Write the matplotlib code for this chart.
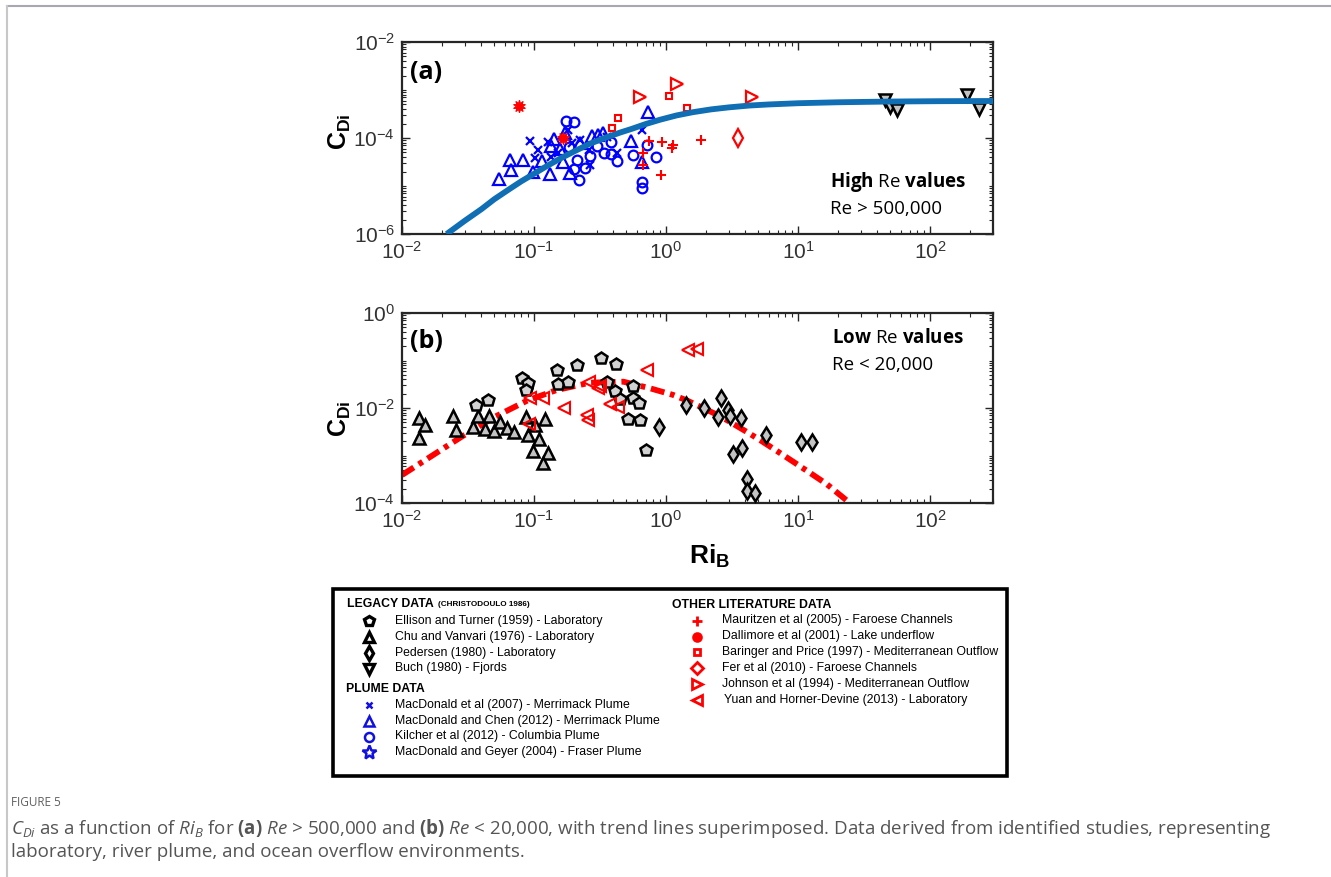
import matplotlib
matplotlib.use('Agg')
import matplotlib.pyplot as plt
from matplotlib.lines import Line2D
from matplotlib.patches import Rectangle
from matplotlib.ticker import LogLocator, NullFormatter

plt.rcParams['font.family'] = 'Liberation Sans'
plt.rcParams['mathtext.fontset'] = 'custom'
plt.rcParams['mathtext.rm'] = 'Liberation Sans'
plt.rcParams['mathtext.sf'] = 'Liberation Sans:bold'
plt.rcParams['mathtext.it'] = 'Open Sans:italic'
plt.rcParams['mathtext.bf'] = 'Open Sans:bold'
plt.rcParams['mathtext.default'] = 'regular'

# ---------------- (a) high Re data ----------------
kilcher_ri = [0.175, 0.202, 0.185, 0.211, 0.201, 0.218, 0.243, 0.265, 0.299, 0.339,
              0.383, 0.424, 0.383, 0.565, 0.655, 0.655, 0.836, 0.714]
kilcher_cd = [2.26e-4, 2.19e-4, 6.4e-5, 3.48e-5, 2.26e-5, 1.33e-5, 2.4e-5, 4.27e-5, 6.8e-5, 4.8e-5,
              4.64e-5, 3.37e-5, 8.4e-5, 4.43e-5, 1.23e-5, 8.96e-6, 3.96e-5, 7.1e-5]
chen_ri = [0.0543, 0.0658, 0.0665, 0.082, 0.0977, 0.1156, 0.132, 0.142, 0.135, 0.157,
           0.172, 0.1875, 0.1667, 0.223, 0.2735, 0.307, 0.335, 0.541, 0.735, 0.655]
chen_cd = [1.38e-5, 3.48e-5, 2.16e-5, 3.48e-5, 1.93e-5, 3.37e-5, 1.78e-5, 9.4e-5, 6.8e-5, 5.8e-5,
           1.25e-4, 1.84e-5, 3.2e-5, 8.0e-5, 1.1e-4, 1.14e-4, 1.25e-4, 8.8e-5, 3.53e-4, 3.2e-5]
macd_ri = [0.0933, 0.108, 0.102, 0.128, 0.135, 0.153, 0.182, 0.193, 0.223, 0.262,
           0.265, 0.356, 0.424, 0.661]
macd_cd = [8.7e-5, 5.6e-5, 3.78e-5, 8.4e-5, 3.96e-5, 4.94e-5, 1.47e-4, 7.8e-5, 9.1e-5, 5.6e-5,
           2.74e-5, 1.06e-4, 4.8e-5, 1.47e-4]
dallimore_ri = [0.0775, 0.165]
dallimore_cd = [4.64e-4, 1.01e-4]
baringer_ri = [0.388, 0.43, 1.06, 1.435]
baringer_cd = [1.59e-4, 2.61e-4, 7.5e-4, 4.16e-4]
johnson_ri = [0.63, 1.205, 4.46]
johnson_cd = [7.05e-4, 1.33e-3, 7.26e-4]
mauritzen_ri = [0.746, 0.927, 1.135, 1.104, 0.673, 0.667, 0.912, 1.84]
mauritzen_cd = [8.66e-5, 8.4e-5, 7.1e-5, 6.1e-5, 4.8e-5, 2.74e-5, 1.69e-5, 9.1e-5]
fer_ri = [3.53]
fer_cd = [9.86e-5]
buch_ri = [45.8, 49.8, 56.5, 192, 236]
buch_cd = [6.19e-4, 4.36e-4, 3.83e-4, 7.87e-4, 3.96e-4]
trend_a_ri = [0.0218, 0.03, 0.04, 0.05, 0.065, 0.08, 0.1, 0.125, 0.16, 0.2, 0.265, 0.35, 0.45,
              0.55, 0.7, 0.9, 1.2, 1.6, 2.2, 3.0, 4.3, 6.0, 10, 20, 50, 120, 300]
trend_a_cd = [1.0e-6, 1.9e-6, 3.3e-6, 5.3e-6, 8.6e-6, 1.25e-5, 1.8e-5, 2.6e-5, 3.8e-5, 5.2e-5,
              7.6e-5, 1.02e-4, 1.3e-4, 1.55e-4, 1.95e-4, 2.4e-4, 2.95e-4, 3.45e-4, 3.95e-4,
              4.35e-4, 4.75e-4, 5.0e-4, 5.3e-4, 5.55e-4, 5.75e-4, 5.85e-4, 5.9e-4]

# ---------------- (b) low Re data ----------------
ellison_ri = [0.0366, 0.0451, 0.0811, 0.0906, 0.0875, 0.1486, 0.151, 0.182, 0.21, 0.324,
              0.418, 0.36, 0.414, 0.452, 0.56, 0.562, 0.624, 0.515, 0.63, 0.71]
ellison_cd = [0.0113, 0.0147, 0.0422, 0.0341, 0.0234, 0.0631, 0.032, 0.0353, 0.0804, 0.111,
              0.0844, 0.0361, 0.0228, 0.0151, 0.029, 0.0162, 0.0127, 0.00578, 0.00559, 0.0013]
chu_ri = [0.01345, 0.01493, 0.01345, 0.0245, 0.0255, 0.0344, 0.0379, 0.0456, 0.0423, 0.0494,
          0.0552, 0.0621, 0.0708, 0.0865, 0.0901, 0.102, 0.122, 0.1094, 0.0989, 0.127, 0.116]
chu_cd = [0.00607, 0.00439, 0.00234, 0.00679, 0.00344, 0.00392, 0.00695, 0.00679, 0.00365, 0.00333,
          0.00515, 0.00374, 0.00317, 0.00631, 0.0027, 0.00439, 0.00595, 0.00219, 0.00123, 0.00111, 0.000695]
pedersen_ri = [0.885, 1.418, 1.94, 2.59, 2.49, 2.93, 3.05, 3.68, 5.73, 3.2, 3.74, 4.13, 4.13, 4.72, 10.5, 12.7]
pedersen_cd = [0.00398, 0.01156, 0.00986, 0.016, 0.00656, 0.00908, 0.00679, 0.00607, 0.0027, 0.00108,
               0.00142, 0.000315, 0.000182, 0.000165, 0.00195, 0.00195]
yuan_ri = [0.094, 0.1175, 0.0916, 0.1686, 0.254, 0.258, 0.263, 0.307, 0.316, 0.374, 0.431, 0.724, 1.476, 1.71]
yuan_cd = [0.01663, 0.01648, 0.0046, 0.00986, 0.00713, 0.00546, 0.0361, 0.026, 0.0284, 0.012,
           0.0105, 0.0622, 0.1664, 0.172]
trend_b_ri = [0.01, 0.0283, 0.0507, 0.0906, 0.1486, 0.265, 0.475, 0.757, 1.135, 1.45, 1.81, 2.3,
              2.88, 3.9, 5.15, 7.0, 9.2, 12.5, 16.5, 24.8]
trend_b_cd = [3.88e-4, 2.49e-3, 6.56e-3, 1.47e-2, 2.39e-2, 3.41e-2, 3.58e-2, 2.6e-2, 1.88e-2,
              1.43e-2, 1.07e-2, 7.8e-3, 5.6e-3, 3.4e-3, 2.12e-3, 1.22e-3, 7.4e-4, 4.2e-4,
              2.5e-4, 9.9e-5]

W, H = 1331, 877
BLUE = '#0000FF'
RED = '#FF0000'
FRAME = '#262626'
GRAY = '#C4C4C4'


def fx(x):
    return x / W


def fy(y):
    return 1 - y / H


fig = plt.figure(figsize=(W / 100, H / 100), dpi=100)

ax1 = fig.add_axes([fx(402), fy(234), (993 - 402) / W, (234 - 42) / H])
ax2 = fig.add_axes([fx(402), fy(503), (993 - 402) / W, (503 - 313) / H])

# panel (a)
ax1.plot(kilcher_ri, kilcher_cd, 'o', ms=7, mfc='none', mec=BLUE, mew=1.6)
ax1.plot(chen_ri, chen_cd, '^', ms=8, mfc='none', mec=BLUE, mew=1.6)
ax1.plot(macd_ri, macd_cd, 'x', ms=6, mec=BLUE, mew=1.6)
ax1.plot(dallimore_ri, dallimore_cd, marker=(10, 1, 0), ls='none', ms=9, mfc=RED, mec=RED, mew=0.8)
ax1.plot(baringer_ri, baringer_cd, 's', ms=5, mfc='none', mec=RED, mew=1.5)
ax1.plot(johnson_ri, johnson_cd, '>', ms=8, mfc='none', mec=RED, mew=1.6)
ax1.plot(mauritzen_ri, mauritzen_cd, '+', ms=7, mec=RED, mew=1.5)
ax1.plot(fer_ri, fer_cd, 'd', ms=9, mfc='none', mec=RED, mew=1.6)
ax1.plot(buch_ri, buch_cd, 'v', ms=9, mfc=GRAY, mec='black', mew=1.8)
ax1.plot(trend_a_ri, trend_a_cd, '-', color='#0F6EB4', lw=4.2, zorder=4, solid_capstyle='butt',
         solid_joinstyle='round')
ax1.set_ylim(1e-6, 1e-2)

# panel (b)
ax2.plot(trend_b_ri, trend_b_cd, color=RED, lw=4.2, ls=(0, (2.4, 1.0, 0.8, 1.0)),
         dash_capstyle='butt', zorder=2)
ax2.plot(chu_ri, chu_cd, '^', ms=9, mfc=GRAY, mec='black', mew=1.8, zorder=3)
ax2.plot(ellison_ri, ellison_cd, 'p', ms=9, mfc='#D2D2D2', mec='black', mew=1.8, zorder=3)
ax2.plot(pedersen_ri, pedersen_cd, 'd', ms=8.5, mfc=GRAY, mec='black', mew=1.8, zorder=3)
ax2.plot(yuan_ri, yuan_cd, '<', ms=8, mfc='none', mec=RED, mew=1.5, zorder=3)
ax2.set_ylim(1e-4, 1e0)

for ax in (ax1, ax2):
    ax.set_xscale('log')
    ax.set_yscale('log')
    ax.set_xlim(1e-2, 300)
    ax.xaxis.set_major_locator(LogLocator(base=10, numticks=10))
    ax.xaxis.set_minor_locator(LogLocator(base=10, subs=range(2, 10), numticks=20))
    ax.xaxis.set_minor_formatter(NullFormatter())
    ax.yaxis.set_major_locator(LogLocator(base=100, numticks=10))
    ax.yaxis.set_minor_locator(LogLocator(base=10, subs=range(1, 10), numticks=20))
    ax.yaxis.set_minor_formatter(NullFormatter())
    ax.tick_params(which='both', direction='in', top=True, right=True, color=FRAME)
    ax.tick_params(which='major', length=6, width=1.0, labelsize=15, labelcolor='#333333', pad=5)
    ax.tick_params(which='minor', length=3, width=0.8)
    for s in ax.spines.values():
        s.set_linewidth(1.6)
        s.set_color(FRAME)

ax1.set_ylabel(r'$\mathsf{C_{Di}}$', fontsize=18)
ax1.yaxis.set_label_coords(-0.083, 0.535)
ax2.set_ylabel(r'$\mathsf{C_{Di}}$', fontsize=18)
ax2.yaxis.set_label_coords(-0.083, 0.445)
ax2.set_xlabel(r'$\mathsf{Ri_B}$', fontsize=19)
ax2.xaxis.set_label_coords(0.52, -0.21)

ax1.text(0.014, 0.84, '(a)', transform=ax1.transAxes, fontsize=18, fontweight='bold',
         family='Open Sans', va='center')
ax2.text(0.014, 0.85, '(b)', transform=ax2.transAxes, fontsize=18, fontweight='bold',
         family='Open Sans', va='center')

ax1.text(0.725, 0.245, r'$\mathbf{High}$ Re $\mathbf{values}$', transform=ax1.transAxes,
         fontsize=13.5, family='Open Sans', va='baseline')
ax1.text(0.725, 0.105, 'Re > 500,000', transform=ax1.transAxes,
         fontsize=13.5, family='Open Sans', va='baseline')
ax2.text(0.728, 0.84, r'$\mathbf{Low}$ Re $\mathbf{values}$', transform=ax2.transAxes,
         fontsize=13.5, family='Open Sans', va='baseline')
ax2.text(0.728, 0.70, 'Re < 20,000', transform=ax2.transAxes,
         fontsize=13.5, family='Open Sans', va='baseline')

# ---------------- legend box ----------------
fig.add_artist(Rectangle((fx(333), fy(776)), (1007 - 333) / W, (776 - 589) / H,
                         transform=fig.transFigure, fill=False, lw=2.6, ec='black'))

LFS = 8.8
legacy = [('p', 'Ellison and Turner (1959) - Laboratory'),
          ('^', 'Chu and Vanvari (1976) - Laboratory'),
          ('d', 'Pedersen (1980) - Laboratory'),
          ('v', 'Buch (1980) - Fjords')]
plume = [('x', 'MacDonald et al (2007) - Merrimack Plume'),
         ('^', 'MacDonald and Chen (2012) - Merrimack Plume'),
         ('o', 'Kilcher et al (2012) - Columbia Plume'),
         ('*', 'MacDonald and Geyer (2004) - Fraser Plume')]
other = [('+', 'Mauritzen et al (2005) - Faroese Channels'),
         ((10, 1, 0), 'Dallimore et al (2001) - Lake underflow'),
         ('s', 'Baringer and Price (1997) - Mediterranean Outflow'),
         ('D', 'Fer et al (2010) - Faroese Channels'),
         ('>', 'Johnson et al (1994) - Mediterranean Outflow'),
         ('<', 'Yuan and Horner-Devine (2013) - Laboratory')]

fig.text(fx(347), fy(604), 'LEGACY DATA', fontsize=LFS, fontweight='bold', va='center')
fig.text(fx(438), fy(604.5), '(CHRISTODOULO 1986)', fontsize=5.9, fontweight='bold', va='center')
fig.text(fx(346), fy(689), 'PLUME DATA', fontsize=LFS, fontweight='bold', va='center')
fig.text(fx(672), fy(605), 'OTHER LITERATURE DATA', fontsize=LFS, fontweight='bold', va='center')

legacy_y = [621, 637, 653, 668.5]
legacy_ms = {'p': 7, '^': 6.5, 'd': 7, 'v': 6.5}
for (m, label), yy in zip(legacy, legacy_y):
    fig.add_artist(Line2D([fx(369)], [fy(yy)], marker=m, ms=legacy_ms[m],
                          mfc='white', mec='black', mew=2.4, transform=fig.transFigure))
    fig.text(fx(395), fy(yy), label, fontsize=LFS, va='center')

plume_y = [705, 721, 736.5, 752]
plume_ms = {'x': 5, '^': 7.5, 'o': 6.5, '*': 10}
for (m, label), yy in zip(plume, plume_y):
    fig.add_artist(Line2D([fx(369)], [fy(yy)], marker=m, ms=plume_ms[m],
                          mfc='none', mec='#1010E0', mew=1.8, transform=fig.transFigure))
    fig.text(fx(395), fy(yy), label, fontsize=LFS, va='center')

other_y = [620.5, 636.5, 652, 667.5, 684, 700]
other_ms = [7.5, 7, 5, 6.5, 7.5, 7.5]
for i, ((m, label), yy) in enumerate(zip(other, other_y)):
    filled = i == 1
    fig.add_artist(Line2D([fx(697)], [fy(yy)], marker=m, ms=other_ms[i],
                          mfc=RED if filled else 'none', mec=RED, mew=2.0,
                          transform=fig.transFigure))
    fig.text(fx(722 if i < 5 else 724), fy(yy), label, fontsize=LFS, va='center')

# ---------------- page frame and caption ----------------
fig.add_artist(Line2D([fx(7), fx(W)], [fy(6), fy(6)], color='#A8A8B0', lw=1.5,
                      transform=fig.transFigure))
fig.add_artist(Line2D([fx(7), fx(7)], [fy(6), fy(H)], color='#C8C8C8', lw=1.5,
                      transform=fig.transFigure))

fig.text(fx(11), fy(802), 'FIGURE 5', fontsize=8.5, color='#606060', family='Open Sans',
         va='center')
cap1 = (r'$\mathit{C_{Di}}$ as a function of $\mathit{Ri_B}$ for $\mathbf{(a)}$ $\mathit{Re}$ > 500,000 '
        r'and $\mathbf{(b)}$ $\mathit{Re}$ < 20,000, with trend lines superimposed. Data derived from '
        r'identified studies, representing')
fig.text(fx(11), fy(828), cap1, fontsize=13.5, color='#555555', family='Open Sans', va='center')
fig.text(fx(11), fy(852), 'laboratory, river plume, and ocean overflow environments.',
         fontsize=13.5, color='#555555', family='Open Sans', va='center')

fig.savefig('out.png', dpi=100)
